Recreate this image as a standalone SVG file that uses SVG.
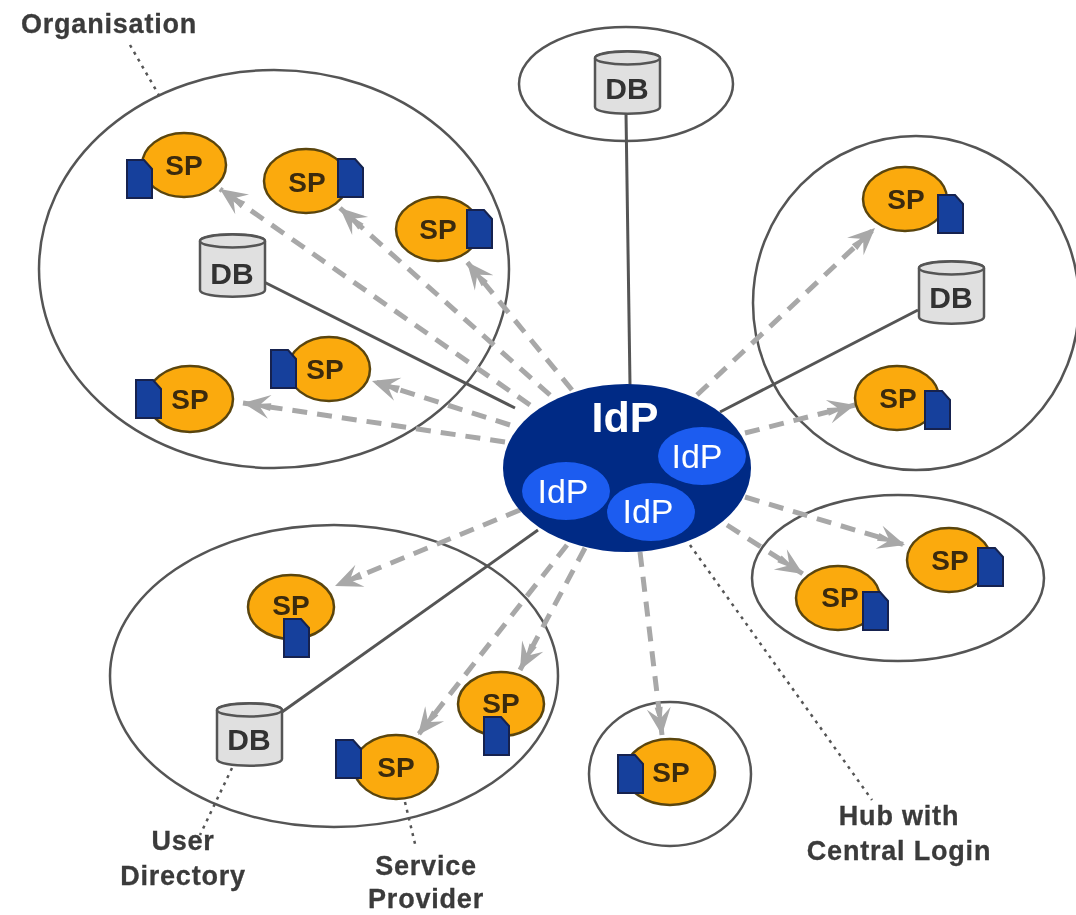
<svg xmlns="http://www.w3.org/2000/svg" width="1076" height="915" viewBox="0 0 1076 915">
<style>
text{font-family:"Liberation Sans",Arial,sans-serif;font-weight:700;text-anchor:middle}
.zone{fill:none;stroke:#555;stroke-width:2.500}
.solid{stroke:#555;stroke-width:3;fill:none}
.dash{stroke:#a8a8a8;stroke-width:5;stroke-dasharray:15 10;fill:none;marker-end:url(#arr)}
.dot{stroke:#555;stroke-width:2.500;stroke-dasharray:3 5;fill:none}
.sp{fill:#fbaa0a;stroke:#5a4510;stroke-width:2.500}
.doc{fill:#17409c;stroke:#12234f;stroke-width:2}
.db{fill:#e0e0e0;stroke:#555;stroke-width:2.500}
.lbl{font-size:27px;letter-spacing:.8px;stroke:#3a3a3a;stroke-width:.3px;fill:#3a3a3a}
.spt{font-size:28px;fill:#3a2a08}
.dbt{font-size:30px;fill:#333}
.idp{fill:#fff;font-weight:400;font-size:34px}
</style>
<defs>
<filter id="soft" x="0" y="0" width="100%" height="100%"><feGaussianBlur stdDeviation="0.600"/></filter>
<marker id="arr" markerUnits="userSpaceOnUse" markerWidth="36" markerHeight="36" refX="30" refY="15" orient="auto" viewBox="0 0 36 30">
<path d="M30 15 L3 3 L12 13 L2 11 L2 19 L12 17 L3 27 Z" fill="#a8a8a8"/>
</marker>
<path id="docL" d="M0 0H17L25 9V38H0Z" class="doc"/>
<g id="dbs"><path class="db" d="M0 8C0 -1 65 -1 65 8V57C65 66 0 66 0 57Z"/><ellipse class="db" cx="32.500" cy="8" rx="32.500" ry="6.500"/></g>
</defs>
<g filter="url(#soft)">
<g id="zones">
<ellipse class="zone" cx="274" cy="269" rx="235" ry="199"/>
<ellipse class="zone" cx="626" cy="84" rx="107" ry="57"/>
<ellipse class="zone" cx="916" cy="303" rx="163" ry="167"/>
<ellipse class="zone" cx="898" cy="578" rx="146" ry="83"/>
<ellipse class="zone" cx="670" cy="774" rx="81" ry="72"/>
<ellipse class="zone" cx="334" cy="676" rx="224" ry="151"/>
</g>
<g id="connectors">
<path class="solid" d="M264 282L515 408M626 113L630 385M918 310L720 412M282 712L538 530"/>
<path class="dash" d="M572 390L467 262"/>
<path class="dash" d="M550 395L340 208"/>
<path class="dash" d="M530 405L220 189"/>
<path class="dash" d="M510 425L372 381"/>
<path class="dash" d="M505 442L243 403"/>
<path class="dash" d="M697 395L875 228"/>
<path class="dash" d="M745 433L855 405"/>
<path class="dash" d="M745 497L905 545"/>
<path class="dash" d="M727 525L803 574"/>
<path class="dash" d="M640 552L662 735"/>
<path class="dash" d="M585 548L520 670"/>
<path class="dash" d="M567 545L418 735"/>
<path class="dash" d="M520 510L335 586"/>
<path class="dot" d="M690 545L872 800M130 45L160 97M232 768L200 835M405 802L416 848"/>
</g>
<g id="db1"><use href="#dbs" x="200" y="233"/><text class="dbt" x="232" y="284">DB</text></g>
<g id="db2"><use href="#dbs" x="595" y="50"/><text class="dbt" x="627" y="99">DB</text></g>
<g id="db3"><use href="#dbs" x="919" y="260"/><text class="dbt" x="951" y="308">DB</text></g>
<g id="db4"><use href="#dbs" x="217" y="702"/><text class="dbt" x="249" y="750">DB</text></g>
<g id="sp1"><ellipse class="sp" cx="184" cy="165" rx="42" ry="32"/><use href="#docL" x="127" y="160"/><text class="spt" x="184" y="175">SP</text></g>
<g id="sp2"><ellipse class="sp" cx="306" cy="181" rx="42" ry="32"/><use href="#docL" x="338" y="159"/><text class="spt" x="307" y="192">SP</text></g>
<g id="sp3"><ellipse class="sp" cx="438" cy="229" rx="42" ry="32"/><use href="#docL" x="467" y="210"/><text class="spt" x="438" y="239">SP</text></g>
<g id="sp4"><ellipse class="sp" cx="329" cy="369" rx="41" ry="32"/><use href="#docL" x="271" y="350"/><text class="spt" x="325" y="379">SP</text></g>
<g id="sp5"><ellipse class="sp" cx="190" cy="399" rx="43" ry="33"/><use href="#docL" x="136" y="380"/><text class="spt" x="190" y="409">SP</text></g>
<g id="sp6"><ellipse class="sp" cx="905" cy="199" rx="42" ry="32"/><use href="#docL" x="938" y="195"/><text class="spt" x="906" y="209">SP</text></g>
<g id="sp7"><ellipse class="sp" cx="897" cy="398" rx="42" ry="32"/><use href="#docL" x="925" y="391"/><text class="spt" x="898" y="408">SP</text></g>
<g id="sp8"><ellipse class="sp" cx="949" cy="560" rx="42" ry="32"/><use href="#docL" x="978" y="548"/><text class="spt" x="950" y="570">SP</text></g>
<g id="sp9"><ellipse class="sp" cx="838" cy="598" rx="42" ry="32"/><use href="#docL" x="863" y="592"/><text class="spt" x="840" y="607">SP</text></g>
<g id="sp10"><ellipse class="sp" cx="670" cy="772" rx="45" ry="33"/><use href="#docL" x="618" y="755"/><text class="spt" x="671" y="782">SP</text></g>
<g id="sp11"><ellipse class="sp" cx="291" cy="607" rx="43" ry="32"/><use href="#docL" x="284" y="619"/><text class="spt" x="291" y="615">SP</text></g>
<g id="sp12"><ellipse class="sp" cx="501" cy="704" rx="43" ry="32"/><text class="spt" x="501" y="713">SP</text><use href="#docL" x="484" y="717"/></g>
<g id="sp13"><ellipse class="sp" cx="396" cy="767" rx="42" ry="32"/><use href="#docL" x="336" y="740"/><text class="spt" x="396" y="777">SP</text></g>
<g id="idp">
<ellipse cx="627" cy="468" rx="124" ry="84" fill="#012a85"/>
<text x="625" y="432" font-size="43" fill="#fff">IdP</text>
<ellipse cx="566" cy="491" rx="44" ry="29" fill="#1a5cf0"/><text class="idp" x="563" y="503">IdP</text>
<ellipse cx="702" cy="456" rx="44" ry="29" fill="#1a5cf0"/><text class="idp" x="697" y="468">IdP</text>
<ellipse cx="651" cy="512" rx="44" ry="29" fill="#1a5cf0"/><text class="idp" x="648" y="523">IdP</text>
</g>
<g id="labels">
<text class="lbl" x="109" y="33">Organisation</text>
<text class="lbl" x="183" y="850">User</text><text class="lbl" x="183" y="885">Directory</text>
<text class="lbl" x="426" y="875">Service</text><text class="lbl" x="426" y="908">Provider</text>
<text class="lbl" x="899" y="825">Hub with</text><text class="lbl" x="899" y="860">Central Login</text>
</g>
</g>
</svg>
